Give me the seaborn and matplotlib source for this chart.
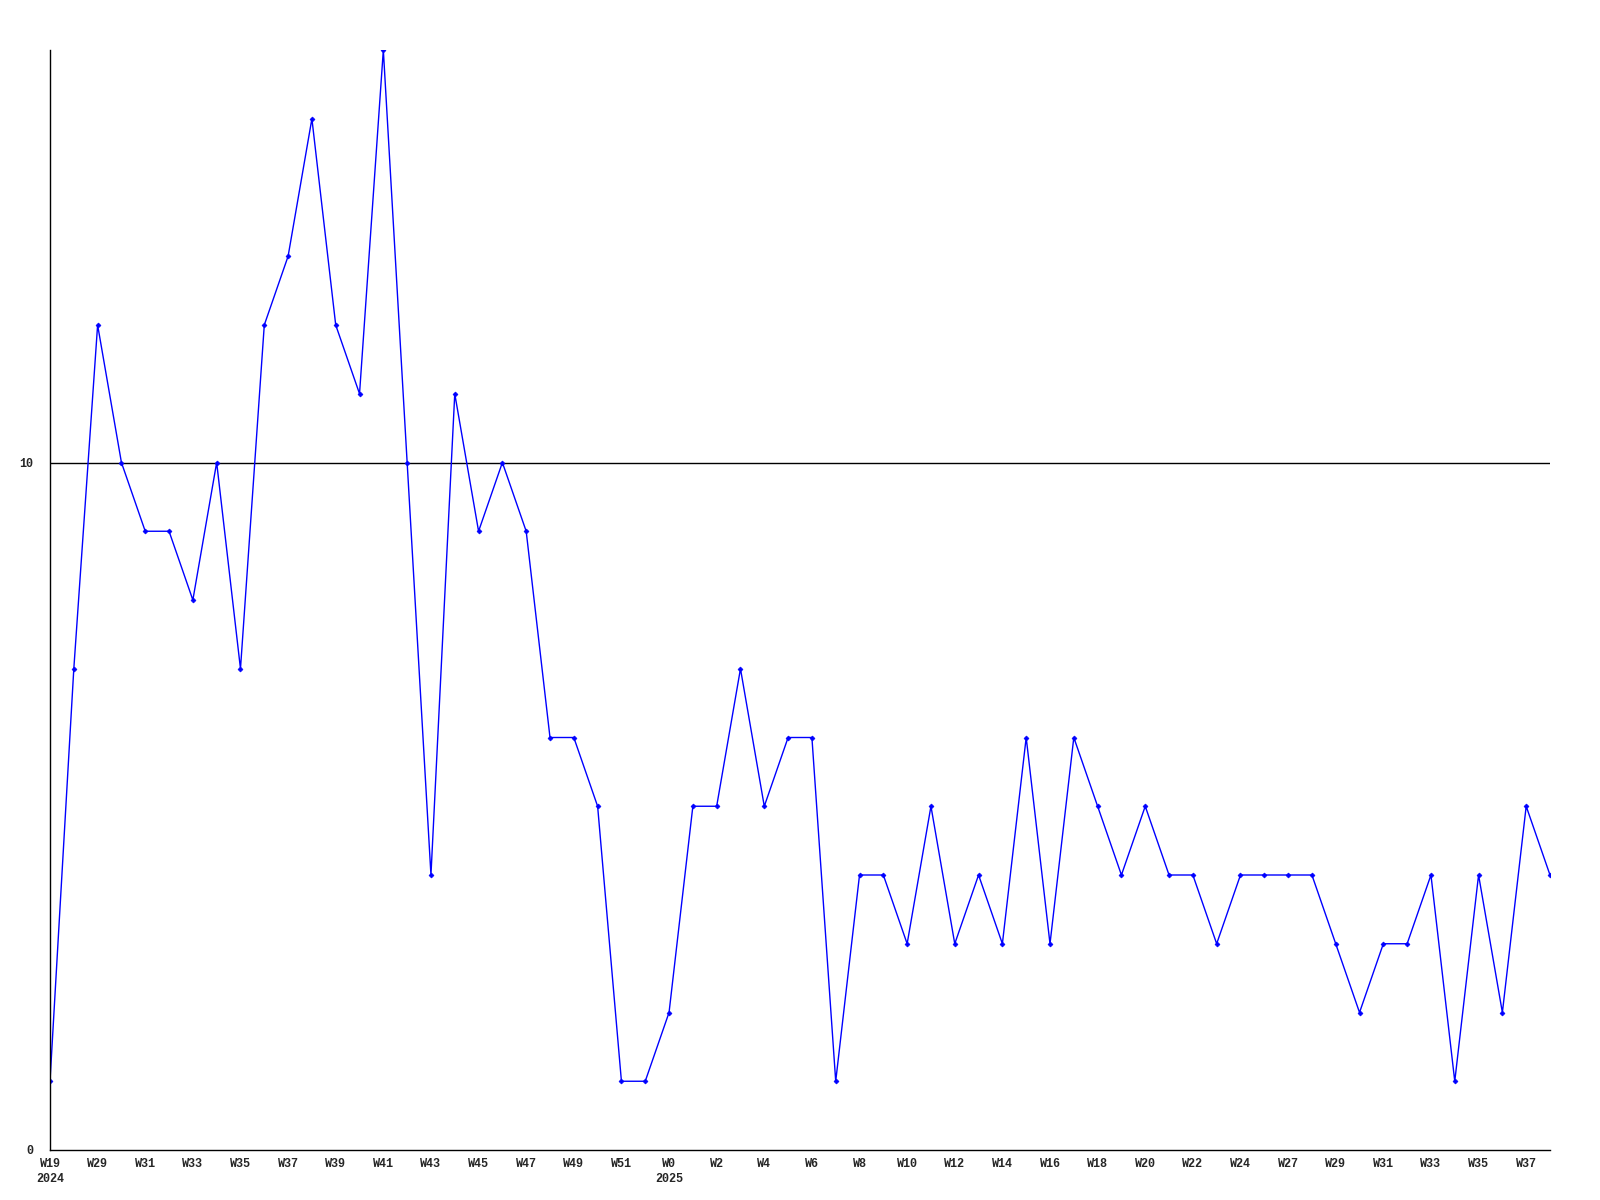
import matplotlib
matplotlib.use("Agg")
import matplotlib.pyplot as plt
import seaborn as sns
import pandas as pd

values = [1, 7, 12, 10, 9, 9, 8, 10, 7, 12, 13, 15, 12, 11, 16, 10, 4, 11, 9, 10,
          9, 6, 6, 5, 1, 1, 2, 5, 5, 7, 5, 6, 6, 1, 4, 4, 3, 5, 3, 4,
          3, 6, 3, 6, 5, 4, 5, 4, 4, 3, 4, 4, 4, 4, 3, 2, 3, 3, 4, 1,
          4, 2, 5, 4]
tick_labels = ["W19\n2024", "W29", "W31", "W33", "W35", "W37", "W39", "W41", "W43", "W45",
               "W47", "W49", "W51", "W0\n2025", "W2", "W4", "W6", "W8", "W10", "W12",
               "W14", "W16", "W18", "W20", "W22", "W24", "W27", "W29", "W31", "W33",
               "W35", "W37"]
y_ticks = [0, 10]

df = pd.DataFrame({"idx": range(len(values)), "value": values})

sns.set_style("white")
plt.rcParams['font.family'] = ['Liberation Mono', 'DejaVu Sans Mono']

fig = plt.figure(figsize=(16, 12), dpi=100)
ax = fig.add_axes([50/1600, 1 - 1150/1200, 1500/1600, 1100/1200])

sns.lineplot(data=df, x="idx", y="value", ax=ax, color="#0000ff", linewidth=1,
             marker="D", markersize=2.5, markeredgewidth=0.5, markeredgecolor="#0000ff")

ax.set_xlim(0, len(values) - 1)
ax.set_ylim(0, 16)
ax.set_xticks(list(range(0, len(values), 2)))
ax.set_xticklabels(tick_labels, fontsize=8.5, fontweight="bold", linespacing=1.35)
for lbl in ax.get_xticklabels():
    lbl.set_verticalalignment("top")
    lbl.set_horizontalalignment("center")
ax.set_yticks(y_ticks)
ax.set_yticklabels([str(v) for v in y_ticks], fontsize=8.5, fontweight="bold")
ax.tick_params(axis="x", length=0, pad=6)
ax.tick_params(axis="y", length=0, pad=12)
ax.axhline(10, color="black", linewidth=1, zorder=1)
ax.set_xlabel("")
ax.set_ylabel("")
for s in ["top", "right"]:
    ax.spines[s].set_visible(False)
for s in ["left", "bottom"]:
    ax.spines[s].set_color("black")
    ax.spines[s].set_linewidth(1)
ax.grid(False)

fig.savefig("out.png", dpi=100, facecolor="white")
